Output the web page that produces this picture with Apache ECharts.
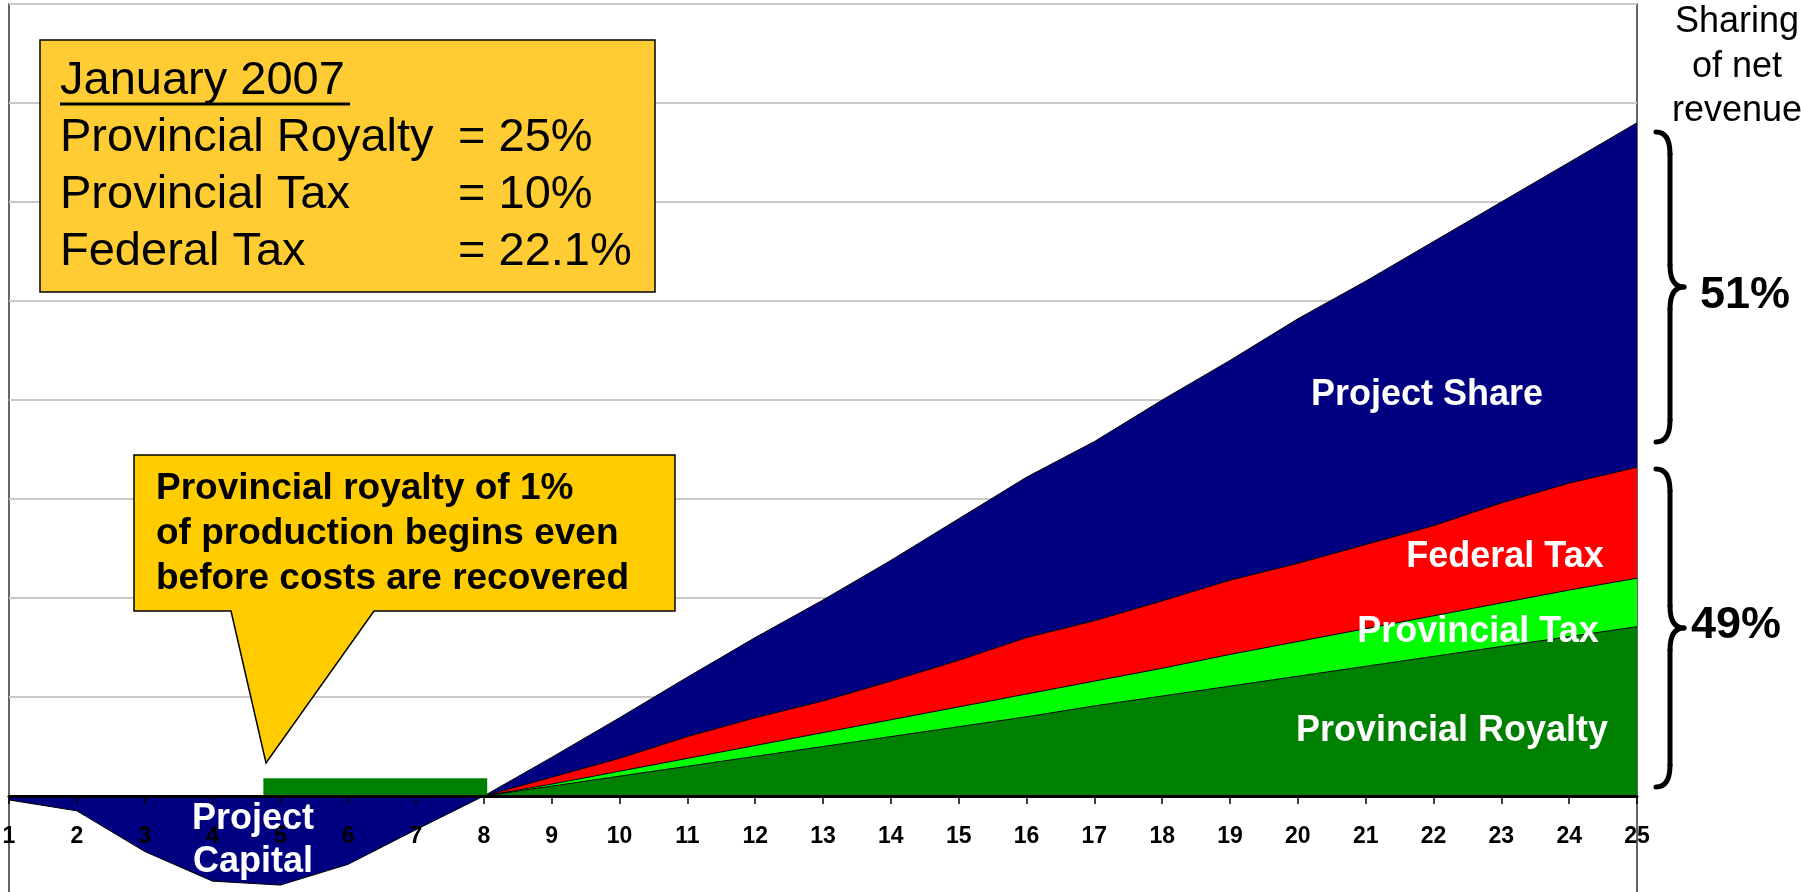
<!DOCTYPE html>
<html lang="en">
<head>
    <meta charset="UTF-8">
    <title>Sharing of net revenue</title>
    <script type="text/javascript" src="https://cdn.jsdelivr.net/npm/echarts@6.0.0/dist/echarts.min.js"></script>
    <style>
        body { margin: 0; background: #fff; }
    </style>
</head>
<body>
<div id="main" style="width: 1801px;height:892px;"></div>

<script type="text/javascript">

    // years on the x axis
    var years = ['1','2','3','4','5','6','7','8','9','10','11','12','13','14','15','16','17','18','19','20','21','22','23','24','25'];

    // project capital (negative, years 1-8)
    var projectCapital = [-0.4, -1.5, -5.6, -8.6, -9.0, -6.9, -3.4, 0,
        '-', '-', '-', '-', '-', '-', '-', '-', '-', '-', '-', '-', '-', '-', '-', '-', '-'];

    // stacked shares after payout (years 8-25)
    var provRoyalty = ['-', '-', '-', '-', '-', '-', '-',
        0, 1.0, 2.0, 3.0, 4.0, 5.0, 6.0, 7.0, 8.0, 9.1, 10.1, 11.1, 12.1, 13.1, 14.1, 15.1, 16.1, 17.1];
    var provTax = ['-', '-', '-', '-', '-', '-', '-',
        0, 0.2, 0.5, 0.8, 1.1, 1.4, 1.7, 2.0, 2.3, 2.5, 2.8, 3.2, 3.5, 3.8, 4.1, 4.4, 4.7, 4.9];
    var fedTax = ['-', '-', '-', '-', '-', '-', '-',
        0, 0.7, 1.3, 2.2, 2.8, 3.2, 3.9, 4.7, 5.7, 6.1, 6.8, 7.5, 7.9, 8.5, 9.1, 10.1, 10.8, 11.2];
    var projectShare = ['-', '-', '-', '-', '-', '-', '-',
        0, 2.0, 4.1, 6.0, 8.1, 10.2, 12.2, 14.3, 16.2, 18.1, 20.3, 22.2, 24.7, 26.6, 28.7, 30.4, 32.4, 34.8];

    // 1% royalty paid before payout (start year, end year, height)
    var preRoyaltyX = [4.75, 8.05];
    var preRoyaltyY = 1.8;

    var FONT = '"Liberation Sans", Arial, Helvetica, sans-serif';

    // plot box: value axis runs -10..80, zero line sits one step above the bottom
    var GRID_TOP = 4, GRID_H = 891;
    var STEP_PX = GRID_H / 9;

    function areaSeries(name, data, color) {
        return {
            name: name,
            type: 'line',
            stack: 'net',
            data: data,
            symbol: 'none',
            lineStyle: { color: '#000', width: 1 },
            areaStyle: { color: color, opacity: 1 },
            z: 2
        };
    }

    // right curly brace "}" between y0 and y1, built from curves and lines
    function brace(x0, y0, y1, w) {
        var xm = x0 + w / 2, ym = (y0 + y1) / 2, r = 22;
        var st = { stroke: '#000', lineWidth: 5, fill: null, lineCap: 'round' };
        function curve(a, b, c, d, e, f) {
            return { type: 'bezierCurve', shape: { x1: a, y1: b, cpx1: c, cpy1: d, x2: e, y2: f }, style: st };
        }
        function seg(a, b, c, d) {
            return { type: 'line', shape: { x1: a, y1: b, x2: c, y2: d }, style: st };
        }
        return {
            type: 'group',
            z: 100,
            children: [
                curve(x0, y0, xm, y0, xm, y0 + r),
                seg(xm, y0 + r, xm, ym - r),
                curve(xm, ym - r, xm, ym, x0 + w, ym),
                curve(x0 + w, ym, xm, ym, xm, ym + r),
                seg(xm, ym + r, xm, y1 - r),
                curve(xm, y1 - r, xm, y1, x0, y1)
            ]
        };
    }

    function txt(text, x, y, size, bold, color, align) {
        return {
            type: 'text',
            x: x,
            y: y,
            z: 101,
            style: {
                text: text,
                font: (bold ? 'bold ' : '') + size + 'px ' + FONT,
                fill: color,
                align: align || 'left',
                verticalAlign: 'middle'
            }
        };
    }

    var myChart = echarts.init(document.getElementById('main'));

    myChart.setOption({
        animation: false,
        backgroundColor: '#fff',
        grid: {
            left: 9,
            top: GRID_TOP,
            width: 1628,
            height: GRID_H,
            outerBoundsMode: 'none',
            containLabel: false,
            show: true,
            borderColor: '#333',
            borderWidth: 1.5,
            backgroundColor: 'transparent'
        },
        xAxis: [{
            type: 'category',
            data: years,
            boundaryGap: false,
            position: 'bottom',
            offset: -STEP_PX,
            z: 10,
            axisLine: { onZero: false, lineStyle: { color: '#000', width: 3 } },
            axisTick: { show: true, interval: 0, length: 8, lineStyle: { color: '#000', width: 1.5 } },
            axisLabel: {
                interval: 0,
                margin: 29,
                color: '#000',
                fontSize: 23,
                fontWeight: 'bold',
                fontFamily: FONT
            },
            splitLine: { show: false }
        }, {
            type: 'value',
            min: 1,
            max: 25,
            show: false
        }],
        yAxis: {
            type: 'value',
            min: -10,
            max: 80,
            interval: 10,
            axisLine: { show: false },
            axisTick: { show: false },
            axisLabel: { show: false },
            splitLine: { show: true, lineStyle: { color: '#c8c8c8', width: 2 } }
        },
        series: [
            {
                name: 'Project Capital',
                type: 'line',
                data: projectCapital,
                symbol: 'none',
                lineStyle: { color: '#000', width: 1 },
                areaStyle: { color: '#000080', opacity: 1 },
                z: 2
            },
            areaSeries('Provincial Royalty', provRoyalty, '#008000'),
            areaSeries('Provincial Tax', provTax, '#00ff00'),
            areaSeries('Federal Tax', fedTax, '#ff0000'),
            areaSeries('Project Share', projectShare, '#000080'),
            {
                name: 'Pre-payout royalty',
                type: 'line',
                xAxisIndex: 1,
                data: [[preRoyaltyX[0], preRoyaltyY], [preRoyaltyX[1], preRoyaltyY]],
                symbol: 'none',
                lineStyle: { width: 0 },
                areaStyle: { color: '#008000', opacity: 1 },
                z: 3
            }
        ],
        graphic: [
            // January 2007 box
            {
                type: 'rect',
                shape: { x: 40, y: 40, width: 615, height: 252 },
                style: { fill: '#ffcc33', stroke: '#000', lineWidth: 1.5 },
                z: 100
            },
            txt('January 2007', 60, 81, 47, false, '#000'),
            {
                type: 'line',
                shape: { x1: 60, y1: 104, x2: 350, y2: 104 },
                style: { stroke: '#000', lineWidth: 3 },
                z: 101
            },
            txt('Provincial Royalty', 60, 138, 47, false, '#000'),
            txt('= 25%', 458, 138, 47, false, '#000'),
            txt('Provincial Tax', 60, 195, 47, false, '#000'),
            txt('= 10%', 458, 195, 47, false, '#000'),
            txt('Federal Tax', 60, 252, 47, false, '#000'),
            txt('= 22.1%', 458, 252, 47, false, '#000'),

            // callout about the pre-payout royalty
            {
                type: 'polygon',
                shape: { points: [[134, 455], [675, 455], [675, 611], [374, 611], [266, 763], [231, 611], [134, 611]] },
                style: { fill: '#ffcc00', stroke: '#000', lineWidth: 1.5 },
                z: 100
            },
            txt('Provincial royalty of 1%', 156, 489, 37, true, '#000'),
            txt('of production begins even', 156, 534, 37, true, '#000'),
            txt('before costs are recovered', 156, 579, 37, true, '#000'),

            // labels inside the areas
            txt('Project Share', 1427, 395, 36, true, '#fff', 'center'),
            txt('Federal Tax', 1505, 557, 36, true, '#fff', 'center'),
            txt('Provincial Tax', 1478, 632, 36, true, '#fff', 'center'),
            txt('Provincial Royalty', 1452, 731, 36, true, '#fff', 'center'),
            txt('Project', 253, 819, 36, true, '#fff', 'center'),
            txt('Capital', 253, 862, 36, true, '#fff', 'center'),

            // right side
            txt('Sharing', 1737, 22, 36, false, '#000', 'center'),
            txt('of net', 1737, 67, 36, false, '#000', 'center'),
            txt('revenue', 1737, 111, 36, false, '#000', 'center'),
            brace(1656, 132, 442, 28),
            brace(1656, 469, 787, 28),
            txt('51%', 1700, 296, 45, true, '#000'),
            txt('49%', 1691, 626, 45, true, '#000')
        ]
    });

</script>
</body>
</html>
